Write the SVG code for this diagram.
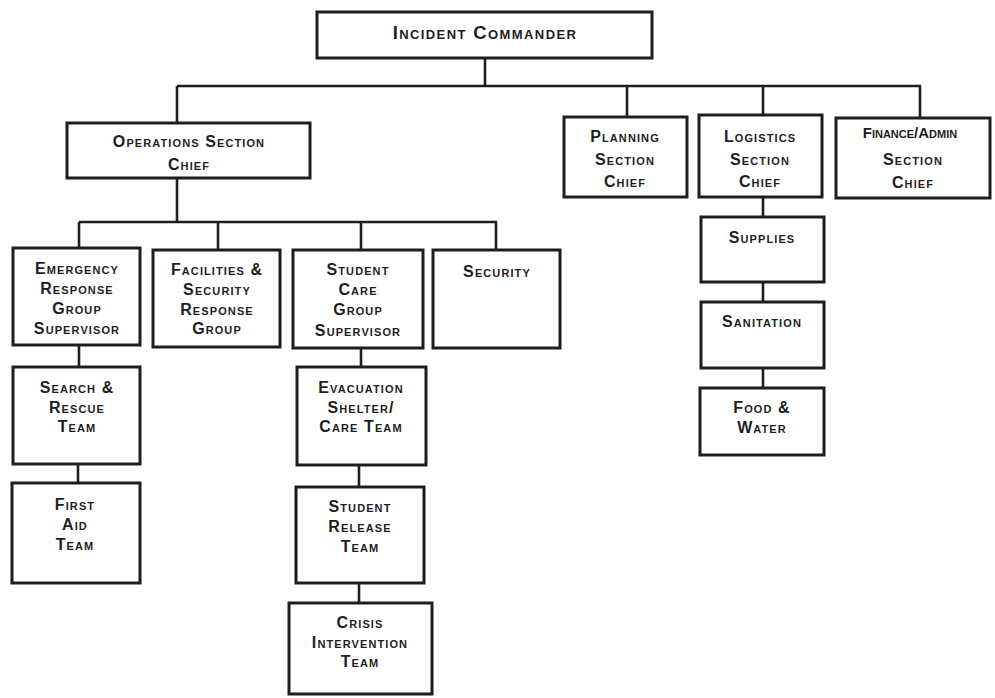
<svg xmlns="http://www.w3.org/2000/svg" width="995" height="698" viewBox="0 0 995 698">
<style>
rect.box{fill:#fff;stroke:#1e1e1e;stroke-width:3}
.conn line{stroke:#1e1e1e;stroke-width:2.6}
text{font-family:"Liberation Sans",Arial,sans-serif;font-weight:bold;font-variant:small-caps;font-size:16px;letter-spacing:1.1px;fill:#1e1e1e;text-anchor:middle}
text.big{font-size:18.5px;letter-spacing:1.4px}
text.tight{letter-spacing:0px;font-size:15px}
</style>
<rect width="995" height="698" fill="#fff"/>
<g class="conn">
<line x1="485" y1="58" x2="485" y2="86"/>
<line x1="177" y1="86" x2="921" y2="86"/>
<line x1="177" y1="86" x2="177" y2="123"/>
<line x1="627" y1="86" x2="627" y2="117"/>
<line x1="763" y1="86" x2="763" y2="115"/>
<line x1="920" y1="86" x2="920" y2="118"/>
<line x1="177" y1="178" x2="177" y2="222"/>
<line x1="79" y1="222" x2="497" y2="222"/>
<line x1="79" y1="222" x2="79" y2="248"/>
<line x1="218" y1="222" x2="218" y2="250"/>
<line x1="361" y1="222" x2="361" y2="250"/>
<line x1="496" y1="222" x2="496" y2="250"/>
<line x1="79" y1="345" x2="79" y2="367"/>
<line x1="78" y1="464" x2="78" y2="483"/>
<line x1="361" y1="348" x2="361" y2="367"/>
<line x1="359" y1="465" x2="359" y2="487"/>
<line x1="359" y1="583" x2="359" y2="603"/>
<line x1="763" y1="197" x2="763" y2="217"/>
<line x1="763" y1="282" x2="763" y2="302"/>
<line x1="763" y1="368" x2="763" y2="388"/>
</g>
<g id="incident-commander"><rect class="box" x="317" y="12" width="335" height="46"/><text class="big" x="485" y="39">Incident Commander</text></g>
<g id="operations"><rect class="box" x="67" y="123" width="243" height="55"/><text x="189" y="147">Operations Section</text><text x="189" y="170">Chief</text></g>
<g id="planning"><rect class="box" x="564" y="117" width="123" height="80"/><text x="625" y="142">Planning</text><text x="625" y="165">Section</text><text x="625" y="187">Chief</text></g>
<g id="logistics"><rect class="box" x="699" y="115" width="123" height="82"/><text x="760" y="142">Logistics</text><text x="760" y="165">Section</text><text x="760" y="187">Chief</text></g>
<g id="finance"><rect class="box" x="836" y="118" width="154" height="80"/><text class="tight" x="910" y="138">Finance/Admin</text><text x="913" y="165">Section</text><text x="913" y="188">Chief</text></g>
<g id="emergency"><rect class="box" x="13" y="248" width="127" height="97"/><text x="77" y="274">Emergency</text><text x="77" y="294">Response</text><text x="77" y="314">Group</text><text x="77" y="334">Supervisor</text></g>
<g id="facilities"><rect class="box" x="153" y="250" width="127" height="97"/><text x="217" y="275">Facilities &amp;</text><text x="217" y="295">Security</text><text x="217" y="315">Response</text><text x="217" y="334">Group</text></g>
<g id="student-care"><rect class="box" x="293" y="250" width="130" height="98"/><text x="358" y="275">Student</text><text x="358" y="295">Care</text><text x="358" y="315">Group</text><text x="358" y="336">Supervisor</text></g>
<g id="security"><rect class="box" x="433" y="250" width="127" height="98"/><text x="497" y="277">Security</text></g>
<g id="search-rescue"><rect class="box" x="13" y="367" width="127" height="97"/><text x="77" y="393">Search &amp;</text><text x="77" y="413">Rescue</text><text x="77" y="432">Team</text></g>
<g id="first-aid"><rect class="box" x="12" y="483" width="128" height="100"/><text x="75" y="510">First</text><text x="75" y="530">Aid</text><text x="75" y="550">Team</text></g>
<g id="evacuation"><rect class="box" x="297" y="367" width="129" height="98"/><text x="361" y="393">Evacuation</text><text x="361" y="413">Shelter/</text><text x="361" y="432">Care Team</text></g>
<g id="student-release"><rect class="box" x="296" y="487" width="128" height="96"/><text x="360" y="512">Student</text><text x="360" y="532">Release</text><text x="360" y="552">Team</text></g>
<g id="crisis"><rect class="box" x="289" y="603" width="143" height="91"/><text x="360" y="628">Crisis</text><text x="360" y="648">Intervention</text><text x="360" y="667">Team</text></g>
<g id="supplies"><rect class="box" x="701" y="217" width="123" height="65"/><text x="762" y="243">Supplies</text></g>
<g id="sanitation"><rect class="box" x="701" y="302" width="123" height="66"/><text x="762" y="327">Sanitation</text></g>
<g id="food-water"><rect class="box" x="700" y="388" width="124" height="67"/><text x="762" y="413">Food &amp;</text><text x="762" y="433">Water</text></g>
</svg>
